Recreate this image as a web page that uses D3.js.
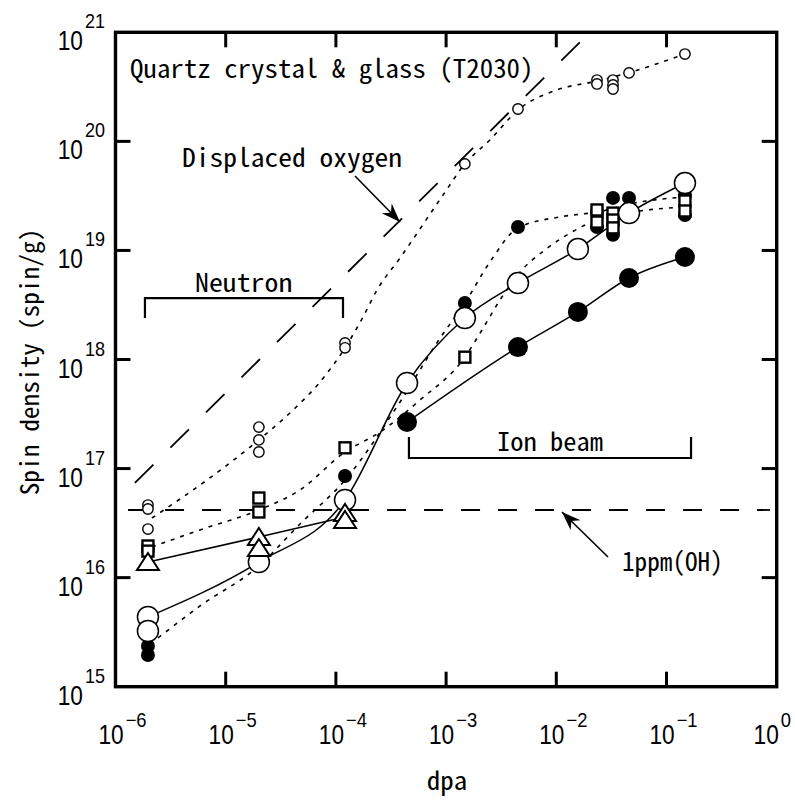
<!DOCTYPE html>
<html>
<head>
<meta charset="utf-8">
<script src="https://cdn.jsdelivr.net/npm/d3@7"></script>
<style>
  body { margin: 0; background: #fff; }
  svg { display: block; }
</style>
</head>
<body>
<svg id="chart" width="795" height="801"></svg>
<script>
// ---- data (dpa, spin/g) ----
const xDecades = [-6, -5, -4, -3, -2, -1, 0];
const yDecades = [15, 16, 17, 18, 19, 20, 21];

const smallOpen = [
  [1.97e-6, 4.63e16], [1.97e-6, 4.26e16], [1.97e-6, 2.79e16],
  [2.0e-5, 2.40e17], [2.0e-5, 1.83e17], [2.0e-5, 1.42e17],
  [1.21e-4, 1.42e18], [1.21e-4, 1.28e18],
  [1.48e-3, 6.21e19], [4.49e-3, 1.98e20],
  [2.34e-2, 3.65e20], [2.34e-2, 3.36e20],
  [3.27e-2, 3.65e20], [3.27e-2, 3.29e20], [3.27e-2, 3.02e20],
  [4.57e-2, 4.24e20], [0.147, 6.32e20]
];
const squares = [
  [1.97e-6, 1.95e16], [1.97e-6, 1.75e16],
  [2.0e-5, 5.37e16], [2.0e-5, 4.00e16],
  [1.21e-4, 1.55e17], [1.48e-3, 1.05e18],
  [2.34e-2, 2.35e19], [2.34e-2, 1.82e19],
  [3.27e-2, 2.20e19], [3.27e-2, 1.90e19], [3.27e-2, 1.61e19],
  [0.147, 2.84e19], [0.147, 2.30e19]
];
const smallFilled = [
  [1.97e-6, 2.36e15], [1.97e-6, 1.95e15],
  [1.21e-4, 8.55e16], [1.48e-3, 3.30e18], [4.49e-3, 1.64e19],
  [2.34e-2, 2.25e19], [2.34e-2, 1.64e19],
  [3.27e-2, 3.03e19], [3.27e-2, 1.39e19], [4.57e-2, 3.03e19],
  [0.147, 3.22e19], [0.147, 2.11e19]
];
const bigOpen = [
  [1.97e-6, 4.36e15], [1.97e-6, 3.24e15], [2.0e-5, 1.39e16],
  [1.21e-4, 5.15e16], [4.42e-4, 6.09e17], [1.48e-3, 2.40e18],
  [4.49e-3, 5.02e18], [1.57e-2, 1.03e19], [4.57e-2, 2.20e19], [0.147, 4.15e19]
];
const triangles = [
  [1.97e-6, 1.39e16], [2.0e-5, 2.36e16], [2.0e-5, 1.87e16],
  [1.21e-4, 3.92e16], [1.21e-4, 3.38e16]
];
const bigFilled = [
  [4.42e-4, 2.67e17], [4.49e-3, 1.30e18], [1.57e-2, 2.73e18],
  [4.57e-2, 5.59e18], [0.147, 8.71e18]
];

// connecting solid lines
const bigOpenLine = [
  [1.97e-6, 4.36e15], [2.0e-5, 1.39e16], [1.21e-4, 5.15e16], [4.42e-4, 6.09e17],
  [1.48e-3, 2.40e18], [4.49e-3, 5.02e18], [1.57e-2, 1.03e19], [4.57e-2, 2.20e19], [0.147, 4.15e19]
];
const triangleLine = [[1.97e-6, 1.39e16], [2.0e-5, 2.36e16], [1.21e-4, 3.60e16]];
const bigFilledLine = bigFilled;

// dotted fit curves
const fitSmallOpen = [
  [2.14e-6, 3.52e16], [6.76e-6, 7.85e16], [2.0e-5, 1.83e17], [4.08e-5, 3.44e17],
  [7.18e-5, 6.22e17], [1.21e-4, 1.28e18], [1.76e-4, 2.45e18], [2.36e-4, 4.34e18],
  [3.82e-4, 8.53e18], [9.38e-4, 3.22e19], [1.48e-3, 6.21e19], [2.50e-3, 1.03e20],
  [4.49e-3, 1.94e20], [1.01e-2, 2.96e20], [2.34e-2, 3.57e20], [4.47e-2, 4.24e20], [0.147, 6.32e20]
];
const fitSquares = [
  [2.14e-6, 1.91e16], [5.85e-6, 2.74e16], [2.0e-5, 4.17e16], [4.72e-5, 6.36e16],
  [1.21e-4, 1.42e17], [2.51e-4, 2.16e17], [5.79e-4, 4.25e17], [1.48e-3, 1.05e18],
  [2.25e-3, 2.07e18], [3.08e-3, 3.51e18], [4.69e-3, 6.34e18], [7.88e-3, 1.01e19],
  [1.33e-2, 1.44e19], [2.34e-2, 1.90e19], [5.74e-2, 2.30e19], [0.147, 2.50e19]
];
const fitFilled = [
  [2.43e-6, 2.80e15], [5.85e-6, 5.50e15], [2.0e-5, 1.28e16], [4.72e-5, 3.10e16],
  [1.21e-4, 7.85e16], [3.82e-4, 4.08e17], [8.81e-4, 1.57e18], [1.48e-3, 3.30e18],
  [2.50e-3, 7.84e18], [4.49e-3, 1.61e19], [1.08e-2, 2.03e19], [2.34e-2, 2.25e19],
  [5.74e-2, 2.78e19], [0.147, 3.09e19]
];

// reference lines
const displacedOxygen = [[1.5e-6, 7.4e16], [2.02e-2, 1.0e21]];
const ppmOH = [[1.30e-6, 4.17e16], [0.87, 4.17e16]];
const neutronRange = [1.85e-6, 1.16e-4];
const ionRange = [4.60e-4, 0.167];

// ---- layout ----
const margin = { top: 32.3, right: 795 - 776.7, bottom: 801 - 686.7, left: 115.5 };
const width = 795 - margin.left - margin.right;
const height = 801 - margin.top - margin.bottom;
const FONT = "'Noto Sans Mono CJK JP', 'DejaVu Sans Mono', monospace";
const NUMFONT = "'Liberation Sans', Arial, sans-serif";

const svg = d3.select("#chart");
const g = svg.append("g").attr("transform", `translate(${margin.left},${margin.top})`);

const x = d3.scaleLog().domain([1e-6, 1]).range([0, width]);
const y = d3.scaleLog().domain([1e15, 1e21]).range([height, 0]);

// half-width monospaced text, like the original
function txt(parent, str, px, py, size, charW, anchor = "start") {
  return parent.append("text")
    .attr("x", px).attr("y", py)
    .attr("font-family", FONT)
    .attr("font-size", size)
    .attr("text-anchor", anchor)
    .attr("textLength", str.length * charW)
    .attr("lengthAdjust", "spacingAndGlyphs")
    .text(str);
}

// narrow numbers: squeezed horizontally, returns the drawn width
function num(parent, str, size, sx) {
  const t = parent.append("text")
    .attr("font-family", NUMFONT)
    .attr("font-size", size)
    .text(str);
  const w = t.node().getComputedTextLength() * sx;
  return { t, w, at(px, py) { t.attr("transform", `translate(${px},${py}) scale(${sx},1)`); } };
}

const line = d3.line().x(d => x(d[0])).y(d => y(d[1]));
const smooth = d3.line().x(d => x(d[0])).y(d => y(d[1])).curve(d3.curveMonotoneX);

// reference lines
g.append("path").datum(displacedOxygen).attr("d", line)
  .attr("fill", "none").attr("stroke", "#000").attr("stroke-width", 1.8)
  .attr("stroke-dasharray", "26,24");
g.append("path").datum(ppmOH).attr("d", line)
  .attr("fill", "none").attr("stroke", "#000").attr("stroke-width", 1.8)
  .attr("stroke-dasharray", "19,18");

// dotted fits
[fitSmallOpen, fitSquares, fitFilled].forEach(f => {
  g.append("path").datum(f).attr("d", smooth)
    .attr("fill", "none").attr("stroke", "#000").attr("stroke-width", 1.6)
    .attr("stroke-dasharray", "4,6");
});

// solid lines
[bigOpenLine, triangleLine, bigFilledLine].forEach(l => {
  g.append("path").datum(l).attr("d", smooth)
    .attr("fill", "none").attr("stroke", "#000").attr("stroke-width", 1.5);
});

// markers
g.append("g").selectAll("circle").data(smallFilled).join("circle")
  .attr("cx", d => x(d[0])).attr("cy", d => y(d[1])).attr("r", 7)
  .attr("fill", "#000");

g.append("g").selectAll("rect").data(squares).join("rect")
  .attr("x", d => x(d[0]) - 5.5).attr("y", d => y(d[1]) - 5.5)
  .attr("width", 11).attr("height", 11)
  .attr("fill", "#fff").attr("stroke", "#000").attr("stroke-width", 2.4);

g.append("g").selectAll("circle").data(smallOpen).join("circle")
  .attr("cx", d => x(d[0])).attr("cy", d => y(d[1])).attr("r", 5.2)
  .attr("fill", "#fff").attr("stroke", "#000").attr("stroke-width", 1.4);

g.append("g").selectAll("circle").data(bigFilled).join("circle")
  .attr("cx", d => x(d[0])).attr("cy", d => y(d[1])).attr("r", 10)
  .attr("fill", "#000");

g.append("g").selectAll("circle").data(bigOpen).join("circle")
  .attr("cx", d => x(d[0])).attr("cy", d => y(d[1])).attr("r", 10.5)
  .attr("fill", "#fff").attr("stroke", "#000").attr("stroke-width", 1.5);

g.append("g").selectAll("path").data(triangles).join("path")
  .attr("transform", d => `translate(${x(d[0])},${y(d[1])})`)
  .attr("d", "M0,-9 L11,8 L-11,8 Z")
  .attr("fill", "#fff").attr("stroke", "#000").attr("stroke-width", 2);

// brackets
const bracket = (x0, x1, yb, yt) => `M${x(x0)},${y(yt)}V${y(yb)}H${x(x1)}V${y(yt)}`;
g.append("path").attr("d", bracket(neutronRange[0], neutronRange[1], 3.66e18, 2.40e18))
  .attr("fill", "none").attr("stroke", "#000").attr("stroke-width", 2.2);
g.append("path").attr("d", bracket(ionRange[0], ionRange[1], 1.25e17, 1.95e17))
  .attr("fill", "none").attr("stroke", "#000").attr("stroke-width", 2.2);

// frame and ticks
g.append("rect").attr("width", width).attr("height", height)
  .attr("fill", "none").attr("stroke", "#000").attr("stroke-width", 3.4);

const xTicks = xDecades.slice(1, -1).map(e => Math.pow(10, e));
const yTicks = yDecades.slice(1, -1).map(e => Math.pow(10, e));
const tickLen = 15;
const tk = g.append("g").attr("stroke", "#000").attr("stroke-width", 3);
xTicks.forEach(v => {
  tk.append("line").attr("x1", x(v)).attr("x2", x(v)).attr("y1", height).attr("y2", height - tickLen);
  tk.append("line").attr("x1", x(v)).attr("x2", x(v)).attr("y1", 0).attr("y2", tickLen);
});
yTicks.forEach(v => {
  tk.append("line").attr("y1", y(v)).attr("y2", y(v)).attr("x1", 0).attr("x2", tickLen);
  tk.append("line").attr("y1", y(v)).attr("y2", y(v)).attr("x1", width).attr("x2", width - tickLen);
});

// tick labels: 10 with superscript exponent
const lab = svg.append("g");
xDecades.forEach(e => {
  const px = margin.left + x(Math.pow(10, e));
  const base = num(lab, "10", 27, 0.84);
  const sup = num(lab, e === 0 ? "0" : "\u2212" + Math.abs(e), 20, 0.92);
  const w = base.w + 2 + sup.w;
  const left = Math.min(px + 7 - w / 2, 791 - w);
  base.at(left, 744);
  sup.at(left + base.w + 2, 727);
});
yDecades.forEach(e => {
  const py = margin.top + y(Math.pow(10, e));
  const base = num(lab, "10", 27, 0.84);
  const sup = num(lab, String(e), 20, 0.9);
  base.at(83 - base.w, py + 18);
  sup.at(85, py - 4);
});

// axis titles
txt(svg, "dpa", 447, 790, 26, 13.5, "middle");
txt(svg.append("g").attr("transform", "translate(39,362) rotate(-90)"),
  "Spin density (spin/g)", 0, 0, 25, 12.7, "middle");

// annotations
txt(svg, "Quartz crystal & glass (T2030)", 130, 78, 26, 13.45);
txt(svg, "Displaced oxygen", 182, 167, 26, 13.75);
txt(svg, "Neutron", 195, 292, 26, 13.9);
txt(svg, "Ion beam", 497, 451, 26, 13.25);
txt(svg, "1ppm(OH)", 622, 571, 26, 12.6);

svg.append("defs").append("marker")
  .attr("id", "head").attr("viewBox", "-20 -8 22 16")
  .attr("refX", 0).attr("refY", 0)
  .attr("markerWidth", 22).attr("markerHeight", 16)
  .attr("markerUnits", "userSpaceOnUse").attr("orient", "auto")
  .append("path").attr("d", "M0,0 L-19,-7 L-13,0 L-19,7 Z").attr("fill", "#000");

svg.append("line").attr("x1", 355).attr("y1", 176).attr("x2", 400).attr("y2", 222)
  .attr("stroke", "#000").attr("stroke-width", 1.6).attr("marker-end", "url(#head)");
svg.append("line").attr("x1", 608).attr("y1", 557).attr("x2", 562).attr("y2", 512)
  .attr("stroke", "#000").attr("stroke-width", 1.6).attr("marker-end", "url(#head)");
</script>
</body>
</html>
